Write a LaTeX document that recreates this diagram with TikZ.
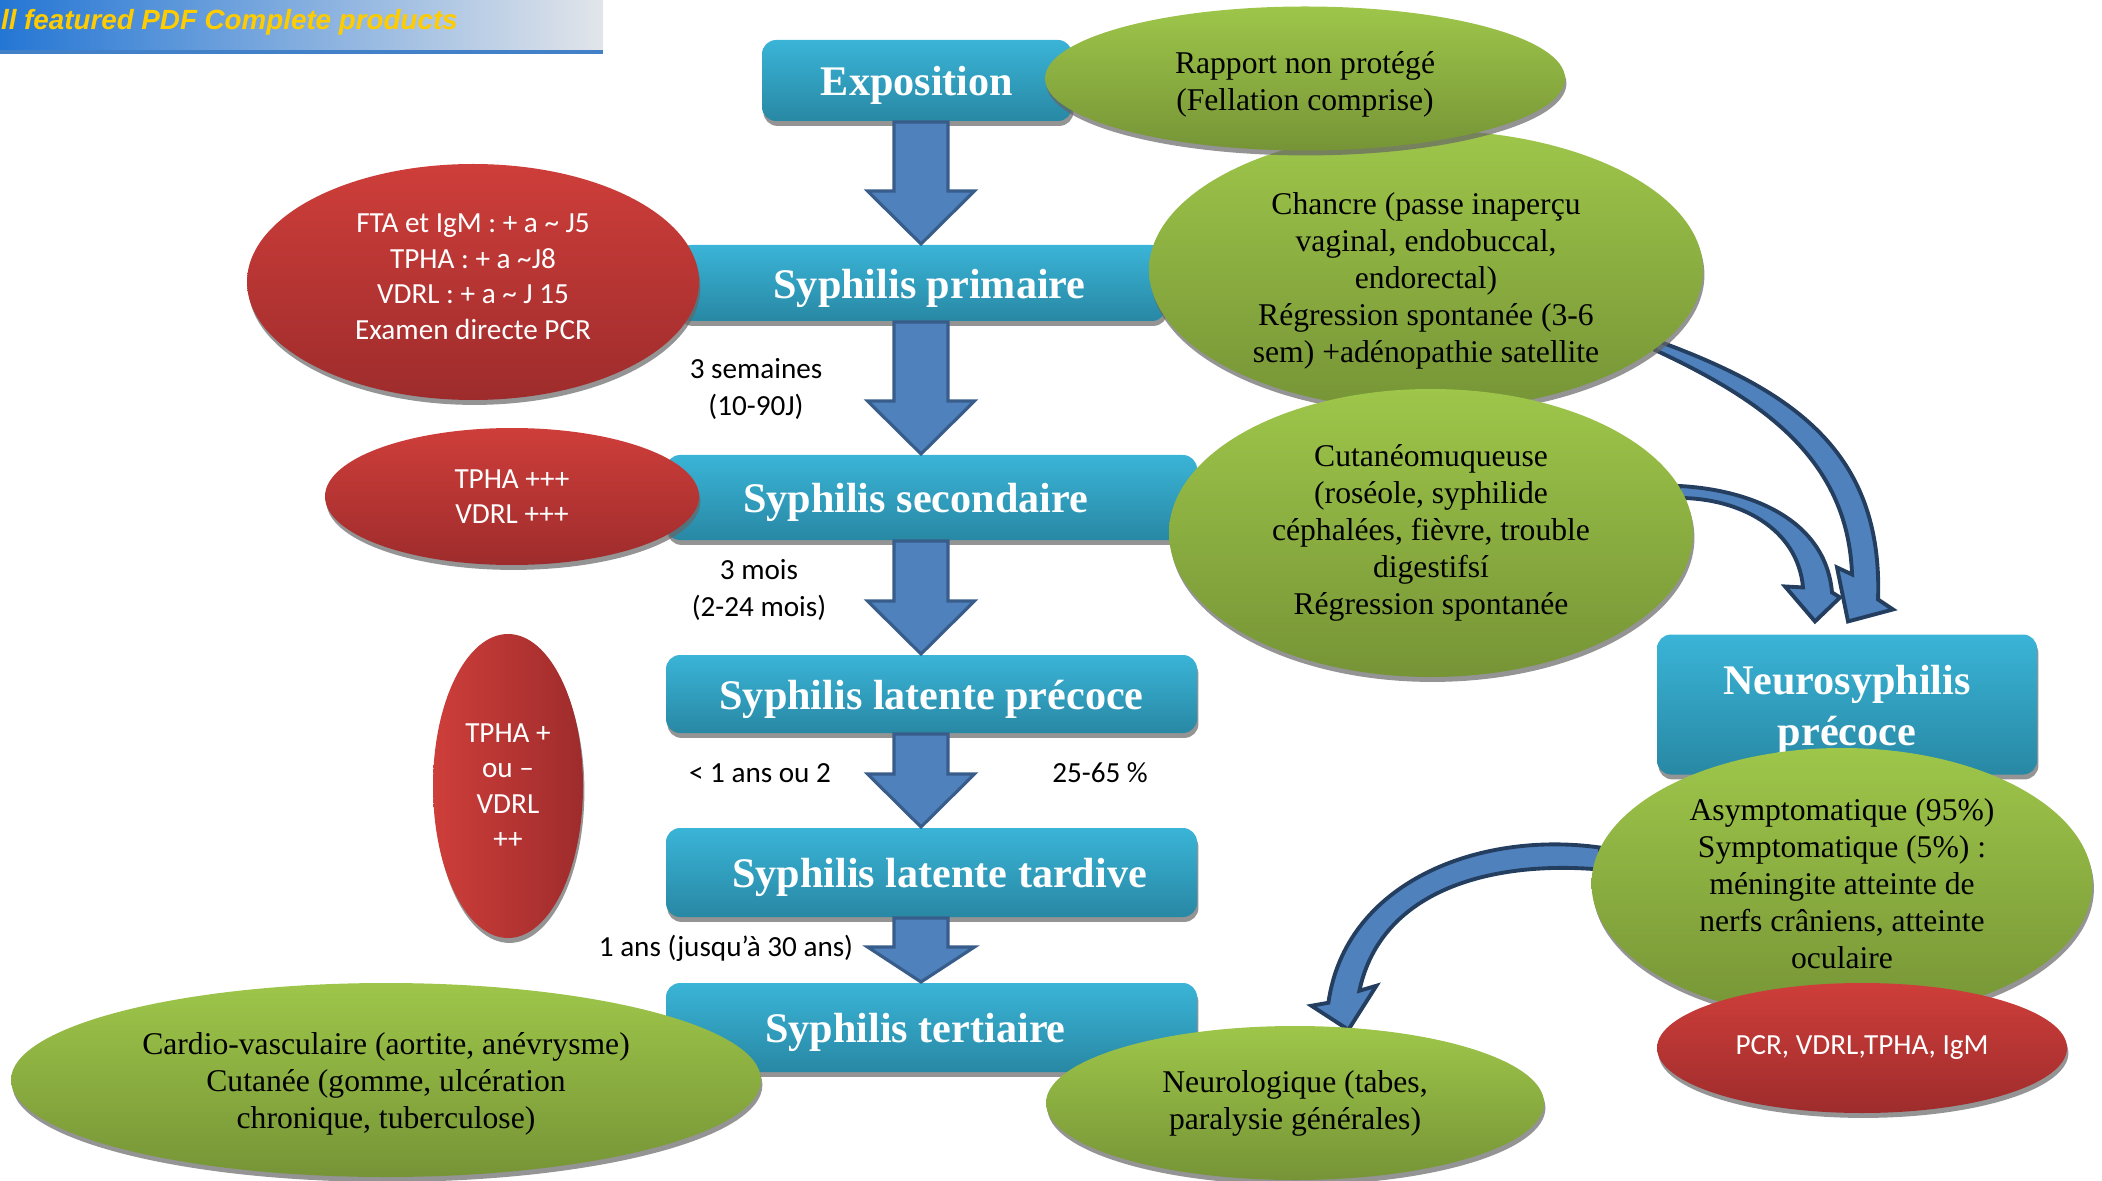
\documentclass[tikz,border=0pt]{standalone}
\usepackage{fontspec}
\setmainfont{Liberation Serif}
\newfontfamily\calibri{Carlito}
\newfontfamily\arialbi{Liberation Sans}
\usetikzlibrary{arrows.meta,shapes.geometric,shadows,calc,backgrounds}

\definecolor{boxtop}{RGB}{58,180,215}
\definecolor{boxbot}{RGB}{40,136,164}
\definecolor{greentop}{RGB}{158,198,74}
\definecolor{greenbot}{RGB}{118,148,54}
\definecolor{redtop}{RGB}{206,62,58}
\definecolor{redbot}{RGB}{158,44,44}
\definecolor{arrowfill}{RGB}{79,129,189}
\definecolor{arrowline}{RGB}{56,93,138}
\definecolor{curveline}{RGB}{36,62,96}
\definecolor{bannerblue}{RGB}{36,118,212}
\definecolor{bannergray}{RGB}{226,229,234}
\definecolor{bannerline}{RGB}{66,128,200}
\definecolor{bannertext}{RGB}{255,204,0}

\begin{document}
\begin{tikzpicture}[semithick,
    blockdown/.style={to path={let \p1=(\tikztostart), \p2=(\tikztotarget) in
      (\x1-0.27cm,\y1) -- (\x1-0.27cm,\y2+#1cm) -- (\x1-0.535cm,\y2+#1cm) -- (\x1,\y2)
      -- (\x1+0.535cm,\y2+#1cm) -- (\x1+0.27cm,\y2+#1cm) -- (\x1+0.27cm,\y1) -- cycle}},
    blockdown/.default=0.53,
    sink/.style={execute at begin node={\rule{0pt}{#1}}},
    rise/.style={execute at end node={\rule[-#1]{0pt}{0pt}}}]
  \tikzstyle{lowshadow}=[drop shadow={shadow xshift=0.4pt, shadow yshift=-1.4pt, opacity=0.7, fill=black!60}]
  \tikzstyle{stage}=[rectangle, rounded corners=4pt, top color=boxtop, bottom color=boxbot, text=white,
    font=\fontsize{12}{14.5}\selectfont\bfseries, align=center, inner sep=0pt, lowshadow, sink=11.2pt]
  \tikzstyle{sign}=[ellipse, top color=greentop, bottom color=greenbot, text=black,
    font=\fontsize{9}{10.5}\selectfont, align=center, inner sep=0pt, lowshadow]
  \tikzstyle{test}=[ellipse, top color=redtop, bottom color=redbot, text=white,
    font=\calibri\fontsize{8.3}{10.1}\selectfont, align=center, inner sep=0pt, lowshadow]
  \tikzstyle{note}=[font=\calibri\fontsize{8.3}{10.5}\selectfont, align=center, inner sep=0pt]
  \tikzstyle{flow}=[fill=arrowfill, draw=arrowline, line width=0.9pt, line join=miter]
  \tikzstyle{bendarrow}=[fill=arrowfill, draw=curveline, line width=1.1pt, line join=miter]

  \useasboundingbox (0,0) rectangle (21.02,11.80);

  % banner
  \shade[left color=bannerblue, right color=bannergray] (0,11.27) rectangle (6.03,11.80);
  \draw[bannerline, line width=1.2pt] (0,11.28) -- (6.03,11.28);
  \node[anchor=base west, inner sep=0pt, text=bannertext,
        font=\arialbi\bfseries\itshape\fontsize{7.9}{9}\selectfont] (H) at (0,11.50) {ll featured PDF Complete products};

  % stages
  \node[stage, minimum width=3.10cm, minimum height=0.81cm] (A) at (9.17,10.995) {Exposition};
  \node[stage, minimum width=4.89cm, minimum height=0.76cm] (B) at (9.215,8.97)  {\hspace*{0.16cm}Syphilis primaire};
  \node[stage, minimum width=5.31cm, minimum height=0.85cm] (C) at (9.315,6.825) {Syphilis secondaire\hspace*{0.32cm}};
  \node[stage, minimum width=5.31cm, minimum height=0.78cm] (D) at (9.315,4.86)  {Syphilis latente précoce};
  \node[stage, minimum width=5.31cm, minimum height=0.89cm] (E) at (9.315,3.075) {\hspace*{0.16cm}Syphilis latente tardive};
  \node[stage, minimum width=5.31cm, minimum height=0.89cm] (F) at (9.315,1.525) {Syphilis tertiaire\hspace*{0.32cm}};
  \node[stage, minimum width=3.80cm, minimum height=1.40cm] (N) at (18.47,4.755) {\rule{0pt}{11.2pt}Neurosyphilis\\précoce};

  \coordinate (ax) at (9.21,0);
  \draw[flow] (A.south -| ax) to[blockdown]      (B.north -| ax);
  \draw[flow] (B.south -| ax) to[blockdown]      (C.north -| ax);
  \draw[flow] (C.south -| ax) to[blockdown]      (D.north -| ax);
  \draw[flow] (D.south -| ax) to[blockdown]      (E.north -| ax);
  \draw[flow] (E.south -| ax) to[blockdown=0.35] (F.north -| ax);

  % tests
  \node[test, rise=3pt, minimum width=4.52cm, minimum height=2.36cm] (R1) at (4.73,8.98)
    {FTA et IgM : + a \textasciitilde{} J5\\TPHA : + a \textasciitilde J8\\VDRL : + a \textasciitilde{} J 15\\Examen directe PCR};
  \node[test, minimum width=3.74cm, minimum height=1.37cm] (R2) at (5.12,6.835) {TPHA +++\\VDRL +++};
  \node[test, left color=redtop, right color=redbot, minimum width=1.50cm, minimum height=3.04cm] (R3) at (5.08,3.94)
    {TPHA +\\ou –\\VDRL\\++};

  % signs
  \node[sign, minimum width=5.54cm, minimum height=2.64cm] (G1) at (14.26,9.10)
    {\rule{0pt}{12.4pt}Chancre (passe inaperçu\\vaginal, endobuccal,\\endorectal)\\Régression spontanée (3-6\\sem) +adénopathie satellite};
  \node[sign, minimum width=5.24cm, minimum height=2.88cm] (G2) at (14.31,6.47)
    {Cutanéomuqueuse\\(roséole, syphilide\\céphalées, fièvre, trouble\\digestifsí\\Régression spontanée};
  \node[sign, minimum width=5.20cm, minimum height=1.44cm] (G0) at (13.05,11.015)
    {\rule{0pt}{9.6pt}Rapport non protégé\\(Fellation comprise)};
  \node[sign, minimum width=7.50cm, minimum height=1.94cm] (G3) at (3.86,1.0)
    {\rule{0pt}{8.6pt}Cardio-vasculaire (aortite, anévrysme)\\Cutanée (gomme, ulcération\\chronique, tuberculose)};
  \node[sign, minimum width=4.98cm, minimum height=1.54cm] (G4) at (12.95,0.77)
    {Neurologique (tabes,\\paralysie générales)};
  \node[sign, minimum width=5.01cm, minimum height=2.71cm] (G5) at (18.42,2.965)
    {Asymptomatique (95\%)\\Symptomatique (5\%) :\\méningite atteinte de\\nerfs crâniens, atteinte\\oculaire};
  \node[test, minimum width=4.10cm, minimum height=1.30cm] (R4) at (18.62,1.32) {PCR, VDRL,TPHA, IgM};

  % delays
  \node[note] (L1) at (7.56,7.91) {3 semaines\\(10-90J)};
  \node[note] (L2) at (7.59,5.90) {3 mois\\(2-24 mois)};
  \node[note] (L3) at (7.60,4.07) {< 1 ans ou 2};
  \node[note] (L4) at (11.00,4.07) {25-65 \%};
  \node[note] (L5) at (7.26,2.32) {1 ans (jusqu’à 30 ans)};

  % towards neurosyphilis
  \coordinate (tA) at ([shift={(0.01,0.12)}]N.north);
  \coordinate (tB) at ([shift={(-0.32,0.12)}]N.north);
  \coordinate (tC) at ([yshift=-0.03cm]G4.55);
  \begin{scope}[on background layer]
    \draw[bendarrow] ([shift={(-0.05,0.06)}]G1.-18) to[out=-20, in=88, looseness=1.1] ([shift={(0.30,0.22)}]tA)
      -- ([shift={(0.45,0.12)}]tA) -- (tA) -- ([shift={(-0.11,0.54)}]tA) -- ([shift={(0.04,0.47)}]tA)
      to[out=92, in=-25] ([shift={(-0.05,-0.04)}]G1.-18) -- cycle;
    \draw[bendarrow] ([shift={(-0.05,0.07)}]G2.9) to[out=-3, in=95] ([shift={(0.17,0.29)}]tB)
      -- ([shift={(0.25,0.24)}]tB) -- (tB) -- ([shift={(-0.30,0.35)}]tB) -- ([shift={(-0.12,0.34)}]tB)
      to[out=95, in=0] ([shift={(-0.05,-0.05)}]G2.9) -- cycle;
    \draw[bendarrow] ([shift={(0.05,0.10)}]G5.174) to[out=172, in=82] ([shift={(-0.20,0.27)}]tC)
      -- ([shift={(-0.37,0.24)}]tC) -- (tC) -- ([shift={(0.28,0.44)}]tC) -- ([shift={(0.11,0.39)}]tC)
      to[out=78, in=175] ([shift={(0.05,-0.12)}]G5.174) -- cycle;
  \end{scope}
\end{tikzpicture}
\end{document}
